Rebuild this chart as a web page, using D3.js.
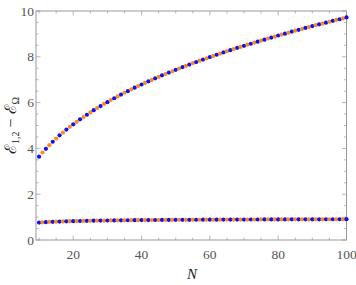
<!DOCTYPE html>
<html>
<head>
<meta charset="utf-8">
<script src="https://cdnjs.cloudflare.com/ajax/libs/d3/7.8.5/d3.min.js"></script>
<style>
  body { margin: 0; background: #fff; }
</style>
</head>
<body>
<div id="main"></div>
<script>
// N = 10 ... 100
const nValues = d3.range(10, 101);

// upper branch E_{1,2} - E_Omega
const upperGap = [
    3.64, 3.82, 3.98, 4.14, 4.29, 4.43, 4.57, 4.69, 4.82, 4.94,
    5.05, 5.16, 5.27, 5.37, 5.47, 5.57, 5.67, 5.76, 5.85, 5.94,
    6.02, 6.11, 6.19, 6.27, 6.35, 6.43, 6.50, 6.58, 6.65, 6.72,
    6.79, 6.86, 6.93, 6.99, 7.06, 7.12, 7.19, 7.25, 7.31, 7.37,
    7.43, 7.49, 7.55, 7.60, 7.66, 7.72, 7.77, 7.83, 7.88, 7.93,
    7.99, 8.04, 8.09, 8.14, 8.19, 8.24, 8.29, 8.34, 8.39, 8.43,
    8.48, 8.53, 8.57, 8.62, 8.66, 8.71, 8.75, 8.80, 8.84, 8.88,
    8.93, 8.97, 9.01, 9.05, 9.10, 9.14, 9.18, 9.22, 9.26, 9.30,
    9.34, 9.38, 9.42, 9.45, 9.49, 9.53, 9.57, 9.61, 9.64, 9.68,
    9.72
];

// lower branch
const lowerGap = [
    0.760, 0.770, 0.780, 0.790, 0.795, 0.800, 0.805, 0.810, 0.815, 0.820,
    0.823, 0.826, 0.830, 0.833, 0.836, 0.839, 0.842, 0.845, 0.847, 0.849,
    0.851, 0.853, 0.855, 0.857, 0.859, 0.861, 0.863, 0.864, 0.866, 0.867,
    0.868, 0.870, 0.871, 0.872, 0.873, 0.874, 0.875, 0.876, 0.877, 0.878,
    0.879, 0.880, 0.881, 0.882, 0.883, 0.884, 0.884, 0.885, 0.886, 0.887,
    0.887, 0.888, 0.889, 0.889, 0.890, 0.891, 0.891, 0.892, 0.893, 0.893,
    0.894, 0.894, 0.895, 0.896, 0.896, 0.897, 0.897, 0.898, 0.898, 0.899,
    0.899, 0.900, 0.900, 0.901, 0.901, 0.902, 0.902, 0.903, 0.903, 0.904,
    0.904, 0.905, 0.905, 0.905, 0.906, 0.906, 0.907, 0.907, 0.907, 0.908,
    0.908
];

const xTicks = [20, 40, 60, 80, 100];
const yTicks = [0, 2, 4, 6, 8, 10];

const blue = '#1010f5';
const orange = '#ff8c1a';
const serif = "'Liberation Serif', 'Times New Roman', serif";

// Set up chart
const W = 356, H = 285;
const frame = {left: 36, right: 346.5, top: 11, bottom: 240};

const svg = d3.select('#main').append('svg')
    .attr('width', W)
    .attr('height', H);

const xScale = d3.scaleLinear()
    .domain([9.1, 100])
    .range([frame.left, frame.right]);

const yScale = d3.scaleLinear()
    .domain([0, 10])
    .range([frame.bottom, frame.top]);

const frameColor = '#9a9a9a';
const labelColor = '#555';

// minor / major ticks (pointing inward, all four sides)
const xMinor = d3.range(10, 101, 5);
const yMinor = d3.range(0, 10.01, 0.5);

function tickLen(isMajor) { return isMajor ? 4.5 : 2.5; }

const ticks = svg.append('g').attr('stroke', frameColor).attr('stroke-width', 0.7);

xMinor.forEach(function (v) {
    const major = xTicks.includes(v);
    const x = xScale(v);
    ticks.append('line').attr('x1', x).attr('x2', x)
        .attr('y1', frame.bottom).attr('y2', frame.bottom - tickLen(major));
    ticks.append('line').attr('x1', x).attr('x2', x)
        .attr('y1', frame.top).attr('y2', frame.top + tickLen(major));
});

yMinor.forEach(function (v) {
    const major = yTicks.includes(v);
    const y = yScale(v);
    ticks.append('line').attr('y1', y).attr('y2', y)
        .attr('x1', frame.left).attr('x2', frame.left + tickLen(major));
    ticks.append('line').attr('y1', y).attr('y2', y)
        .attr('x1', frame.right).attr('x2', frame.right - tickLen(major));
});

// frame
svg.append('rect')
    .attr('x', frame.left)
    .attr('y', frame.top)
    .attr('width', frame.right - frame.left)
    .attr('height', frame.bottom - frame.top)
    .attr('fill', 'none')
    .attr('stroke', frameColor)
    .attr('stroke-width', 1);

// tick labels
svg.selectAll('.xlab')
    .data(xTicks)
    .enter()
    .append('text')
    .attr('class', 'xlab')
    .attr('x', d => xScale(d))
    .attr('y', frame.bottom + 19)
    .attr('text-anchor', 'middle')
    .attr('font-family', serif)
    .attr('font-size', 13.5)
    .attr('fill', labelColor)
    .text(d => d);

svg.selectAll('.ylab')
    .data(yTicks)
    .enter()
    .append('text')
    .attr('class', 'ylab')
    .attr('x', frame.left - 2)
    .attr('y', d => yScale(d) + 4.5)
    .attr('text-anchor', 'end')
    .attr('font-family', serif)
    .attr('font-size', 13.5)
    .attr('fill', labelColor)
    .text(d => d);

// axis titles
svg.append('text')
    .attr('x', 192)
    .attr('y', 279)
    .attr('text-anchor', 'middle')
    .attr('font-family', serif)
    .attr('font-size', 15)
    .attr('font-style', 'italic')
    .attr('fill', '#222')
    .text('N');

const yTitle = svg.append('text')
    .attr('transform', 'translate(16,' + ((frame.top + frame.bottom) / 2) + ') rotate(-90)')
    .attr('text-anchor', 'middle')
    .attr('font-family', serif)
    .attr('font-size', 16)
    .attr('fill', '#222');
yTitle.append('tspan').text('\u2130');
yTitle.append('tspan').attr('font-size', 10).attr('dy', 3).text('1,2');
yTitle.append('tspan').attr('dy', -3).text(' \u2212 \u2130');
yTitle.append('tspan').attr('font-size', 10).attr('dy', 3).text('\u03A9');

// points: colour alternates with N (blue for even, orange for odd)
const pts = [];
nValues.forEach(function (n, i) {
    pts.push({n: n, v: upperGap[i]});
    pts.push({n: n, v: lowerGap[i]});
});

svg.append('g')
    .selectAll('circle')
    .data(pts)
    .enter()
    .append('circle')
    .attr('cx', d => xScale(d.n))
    .attr('cy', d => yScale(d.v))
    .attr('r', 2.1)
    .attr('fill', d => d.n % 2 === 0 ? blue : orange);
</script>
</body>
</html>
